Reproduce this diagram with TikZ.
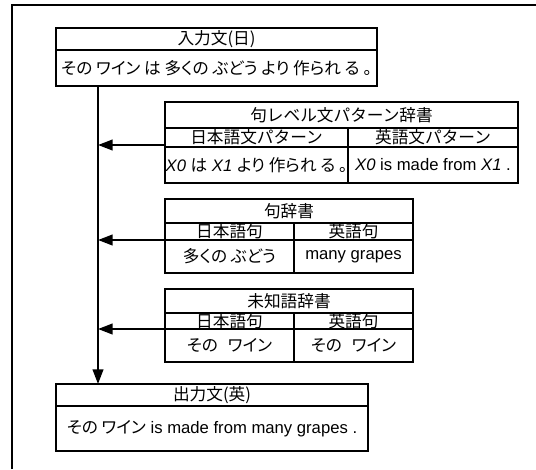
\documentclass[tikz,border=0pt]{standalone}
\usepackage{fontspec}
\setmainfont{Liberation Sans}
\newfontfamily\jpfont{Noto Sans CJK JP}
\newfontfamily\jpbodyfont[RawFeature={+palt}]{Noto Sans CJK JP}
\newcommand{\jp}[1]{{\jpfont #1}}
\newcommand{\jb}[1]{{\jpbodyfont #1}}
\usetikzlibrary{arrows.meta}
\newcommand{\cellbox}[6]{\node[cell, minimum width={(#4-#2)*0.75pt}, minimum height={(#5-#3)*0.75pt}] (#1) at (#2,#3) {#6};}
\begin{document}
\begin{tikzpicture}[x=0.75pt,y=-0.75pt,
  cell/.style={draw, line width=1.5pt, inner sep=0pt, outer sep=0pt, anchor=north west, font=\fontsize{12.5}{14}\selectfont},
  frame/.style={line width=1.5pt},
  link/.style={line width=1.5pt, -{Triangle[length=11pt,width=8pt]}}]
\useasboundingbox (0,0) rectangle (536,469);
\draw[frame] (12,469) -- (12,5) -- (536,5);
\coordinate (trunk) at (98,0);
% input
\cellbox{ititle}{56}{28}{377}{50}{\jp{入力文(日)}}
\cellbox{ibody}{56}{50}{377}{86}{\jb{その ワイン は 多くの ぶどう より 作られ る 。}}
% pattern dictionary
\cellbox{ptitle}{165}{102}{518}{128}{\jp{句レベル文パターン辞書}}
\cellbox{phead1}{165}{128}{348}{147}{\jp{日本語文パターン}}
\cellbox{phead2}{348}{128}{518}{147}{\jp{英語文パターン}}
\cellbox{pbody1}{165}{147}{348}{183}{\textit{X0} \jb{は} \textit{X1} \jb{より 作られ る 。}}
\cellbox{pbody2}{348}{147}{518}{183}{\textit{X0} is made from \textit{X1} .}
% phrase dictionary
\cellbox{qtitle}{165}{199}{413}{223}{\jp{句辞書}}
\cellbox{qhead1}{165}{223}{294}{240}{\jp{日本語句}}
\cellbox{qhead2}{294}{223}{413}{240}{\jp{英語句}}
\cellbox{qbody1}{165}{240}{294}{273}{\jb{多くの ぶどう}}
\cellbox{qbody2}{294}{240}{413}{273}{many grapes}
% unknown word dictionary
\cellbox{utitle}{165}{289}{413}{313}{\jp{未知語辞書}}
\cellbox{uhead1}{165}{313}{294}{329}{\jp{日本語句}}
\cellbox{uhead2}{294}{313}{413}{329}{\jp{英語句}}
\cellbox{ubody1}{165}{329}{294}{362}{\jb{その\hspace{0.6em}ワイン}}
\cellbox{ubody2}{294}{329}{413}{362}{\jb{その\hspace{0.6em}ワイン}}
% output
\cellbox{otitle}{56}{384}{368}{406}{\jp{出力文(英)}}
\cellbox{obody}{56}{406}{368}{451}{\jb{その ワイン} is made from many grapes .}
% connectors
\draw[link] (ibody.south -| trunk) -- (otitle.north -| trunk);
\draw[link] ([yshift=1.5pt]phead1.south west) -- ([yshift=1.5pt]phead1.south west -| trunk);
\draw[link] (qhead1.south west) -- (qhead1.south west -| trunk);
\draw[link] (uhead1.south west) -- (uhead1.south west -| trunk);
\end{tikzpicture}
\end{document}
